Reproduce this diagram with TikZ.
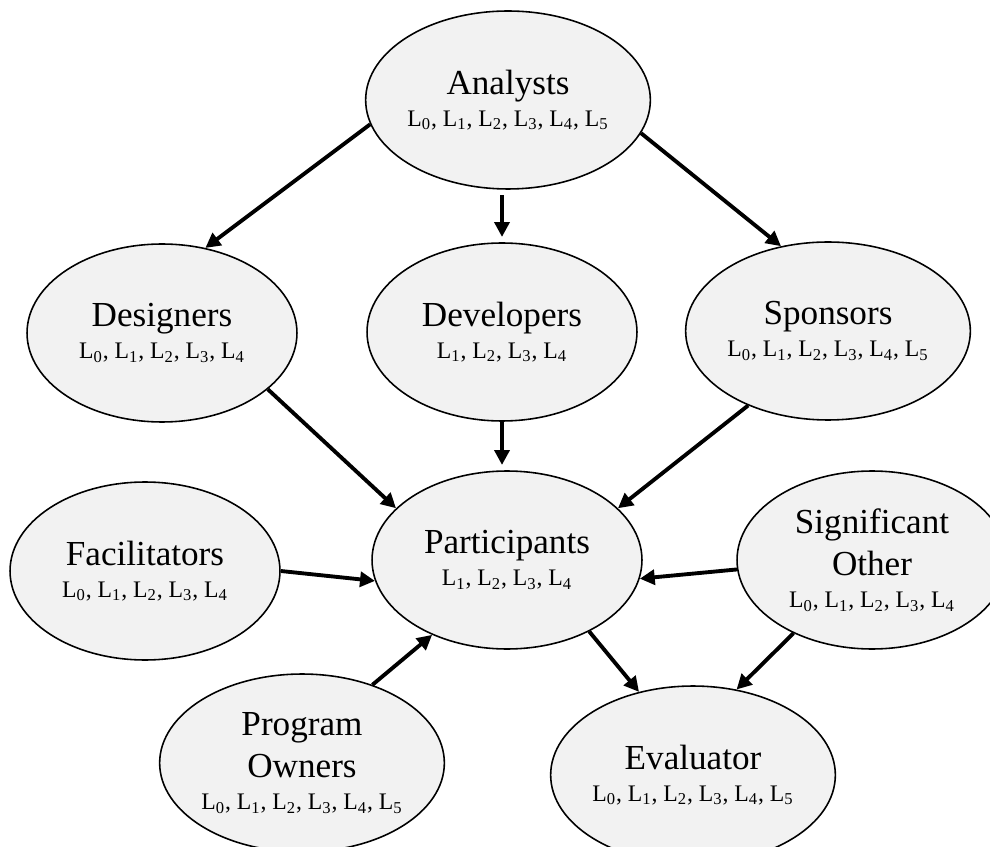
\documentclass[tikz,border=0pt]{standalone}
\usepackage{fontspec}
\setmainfont{Liberation Serif}
\usetikzlibrary{shapes.geometric,arrows.meta}
\definecolor{actorgray}{HTML}{F2F2F2}
\newcommand{\lv}[1]{L\textsubscript{#1}}
\newcommand{\lvls}[1]{{\fontsize{13.5}{16}\selectfont #1}}
\tikzset{
  actor/.style={ellipse, draw=black, line width=0.9pt, fill=actorgray,
    minimum width=5.4cm, minimum height=3.56cm, inner sep=0pt,
    align=center, font=\fontsize{20}{24}\selectfont},
  flow/.style={line width=2.2pt, -{Triangle[length=8.5pt,width=8.5pt]}},
}
\begin{document}
\begin{tikzpicture}[x=0.02cm, y=-0.02cm]
  \clip (0,0) rectangle (990,847);

  % stakeholders
  \node[actor] (ana) at (508,100) {Analysts\\[-6pt]\lvls{\lv0, \lv1, \lv2, \lv3, \lv4, \lv5}};
  \node[actor] (des) at (162,333) {Designers\\[-6pt]\lvls{\lv0, \lv1, \lv2, \lv3, \lv4}};
  \node[actor] (dev) at (502,332) {Developers\\[-6pt]\lvls{\lv1, \lv2, \lv3, \lv4}};
  \node[actor] (spo) at (828,331) {Sponsors\\[-6pt]\lvls{\lv0, \lv1, \lv2, \lv3, \lv4, \lv5}};
  \node[actor] (fac) at (145,571) {Facilitators\\[-6pt]\lvls{\lv0, \lv1, \lv2, \lv3, \lv4}};
  \node[actor] (par) at (507,560) {Participants\\[-6pt]\lvls{\lv1, \lv2, \lv3, \lv4}};
  \node[actor] (sig) at (872,560) {Significant\\Other\\[-6pt]\lvls{\lv0, \lv1, \lv2, \lv3, \lv4}};
  \node[actor] (own) at (302,763) {Program\\Owners\\[-6pt]\lvls{\lv0, \lv1, \lv2, \lv3, \lv4, \lv5}};
  \node[actor] (eva) at (693,775) {Evaluator\\[-6pt]\lvls{\lv0, \lv1, \lv2, \lv3, \lv4, \lv5}};

  % flows
  \draw[flow] (ana.190) -- (des.63);
  \draw[flow, shorten <=3pt, shorten >=3pt] (ana.south -| dev.north) -- (dev.north);
  \draw[flow] (ana.346) -- (spo.119);
  \draw[flow] (des.332) -- (par.155);
  \draw[flow, shorten >=3pt] (dev.south) -- (dev.south |- par.north);
  \draw[flow] (spo.223) -- (par.25);
  \draw[flow] (fac.east) -- (par.189);
  \draw[flow] (sig.184) -- (par.352);
  \draw[flow] (own.48) -- (par.225);
  \draw[flow] (par.319) -- (eva.123);
  \draw[flow] (sig.223) -- (eva.63);
\end{tikzpicture}
\end{document}
